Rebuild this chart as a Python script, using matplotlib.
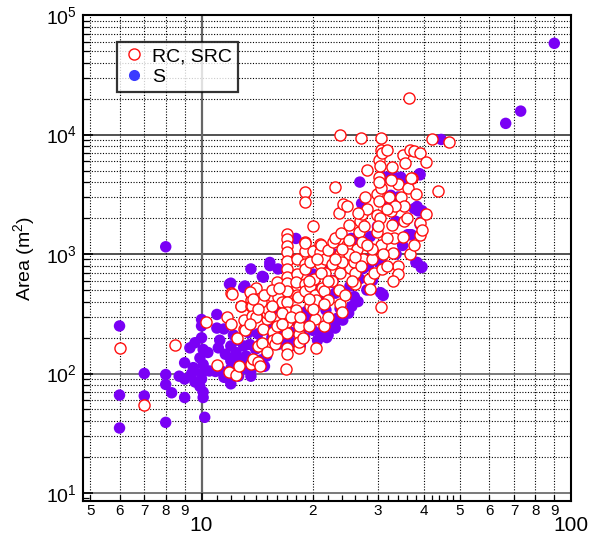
import matplotlib
matplotlib.use("Agg")
import matplotlib.pyplot as plt
from matplotlib.lines import Line2D

plt.rcParams["font.family"] = ["Liberation Sans", "DejaVu Sans"]
plt.rcParams["mathtext.fontset"] = "custom"
plt.rcParams["mathtext.rm"] = "Liberation Sans"

# RC, SRC (open red circles)
rc_x = [6, 7, 8.5, 10.3, 11, 11.7, 11.9, 12, 12, 12.1, 12.4, 12.6, 12.8, 12.8, 13, 13, 13.1,
        13.6, 13.6, 13.6, 13.7, 13.7, 13.8, 14.2, 14.2, 14.4, 14.6, 14.7, 15, 15, 15, 15.1,
        15.3, 15.6, 15.6, 15.6, 15.8, 16, 16.1, 16.5, 16.9, 17, 17, 17, 17, 17, 17, 17, 17,
        17, 17, 17, 17, 17, 17, 17, 18.1, 18.1, 18.1, 18.1, 18, 18.2, 18, 18.3, 18.3, 18.4,
        18.4, 19.1, 19.1, 19.1, 19.1, 19, 19, 19, 19, 19, 19.6, 19.6, 19.6, 20, 20, 20.3,
        20.3, 20.2, 20.4, 20.4, 20.9, 20.9, 20.9, 21, 21.2, 21.6, 21.6, 21.5, 21.5, 22, 22,
        22.6, 22.7, 23, 23, 23.6, 23.7, 23.9, 23.7, 23.7, 23.7, 24, 24.1, 24.7, 24.7, 25,
        25.2, 25.8, 26, 26.3, 26.6, 26.8, 27.1, 27, 27.1, 27.7, 28, 28, 27.4, 28.3, 28.6,
        28.9, 29.3, 29.9, 29.9, 30.2, 30.2, 30.5, 30.5, 30.8, 30.5, 30.2, 29.9, 30.5, 30.8,
        30.5, 30.4, 30.2, 30.4, 30.1, 31.7, 32.8, 32.2, 32.5, 32.8, 33.1, 33.9, 34.6, 35.3,
        36.1, 35, 36.7, 37.5, 38.9, 40.6, 37, 38, 38.9, 39, 36.7, 34, 34, 42, 46.7, 43.5,
        36.3, 31.7, 33, 31.7, 36.8, 40.5, 39.5, 33.4, 35.2, 31.7, 32.5, 35.5, 36, 37.5, 31,
        33, 35, 29, 26, 25, 24, 27.5, 26.5, 22.5, 23.5, 24.5, 25.5, 21.5, 22, 20, 19.5,
        18.8, 16, 16.5, 15.5, 14.5, 14, 13.5, 12.5, 16, 15, 17.5, 18.5, 19.5, 14, 13.5,
        14.8, 15.5, 14.2, 16.2, 16.5, 13.8, 19.5, 20.5, 21, 22, 23, 24, 25, 26, 27, 28]
rc_area = [164, 55, 173, 270, 118, 300, 102, 475, 262, 463, 98, 116, 369, 365, 236, 280, 230,
           410, 365, 120, 369, 305, 132, 171, 125, 116, 180, 236, 406, 286, 320, 347,
           305, 440, 221, 190, 177, 580, 440, 400, 110, 1470, 1340, 1170, 1030, 880, 750, 640,
           570, 490, 400, 330, 272, 220, 165, 146, 910, 680, 540, 450, 580, 440, 340, 214, 165,
           251, 183, 1250, 1070, 820, 560, 3300, 2750, 1230, 750, 490, 850, 540, 370, 1700,
           1060, 450, 285, 615, 410, 165, 1210, 1030, 820, 1190, 520, 910, 700, 490, 251, 1080,
           410, 820, 1250, 1350, 3660, 2200, 10000, 1500, 1000, 700, 385, 330, 2600, 1190,
           2500, 1760, 760, 850, 560, 1110, 1530, 1880, 1250, 9400, 2150, 3000, 5020, 2400,
           900, 615, 505, 900, 700, 2140, 3170, 4400, 6100, 7450, 9400, 7000, 3600, 2800,
           1530, 1190, 750, 360, 5500, 4000, 2000, 1700, 7400, 5350, 3000, 2280, 1760, 1350,
           3870, 3000, 2530, 3600, 6700, 7400, 7300, 6950, 5900, 4340, 3160, 1810, 1450, 1000,
           800, 680, 9200, 8600, 3350, 20200, 800, 1020, 1350, 4300, 2150, 1600, 2500, 1900,
           2400, 4200, 5800, 2000, 1200, 1000, 600, 1400, 1100, 700, 1000, 850, 1700, 2200,
           600, 500, 450, 600, 380, 300, 350, 250, 200, 250, 320, 370, 400, 300, 260, 200, 200,
           150, 300, 300, 420, 520, 480,
           450, 500, 350, 520, 260, 420, 600, 900, 700, 600, 900, 1100, 1300, 950, 800, 1200]

# S (filled purple circles)
s_x = [6, 6, 6, 7, 7, 8, 8, 8, 8, 8.3, 8.7, 9, 9, 9, 9.3, 9.4, 9.5, 9.6, 9.6, 9.9, 9.9, 10,
       10, 10, 10.1, 10.1, 10, 10, 10.1, 10.1, 10.2, 10.4, 10.5, 10.9, 11, 11, 11.1, 11.2,
       11.3, 11.5, 11.5, 11.7, 11.6, 12, 12, 12, 11.9, 12, 12, 12.2, 12.4, 12.5, 12.5, 12.8,
       12.6, 13, 13.1, 13.2, 13.2, 13.5, 13.6, 13.6, 13.6, 13.6, 13.7, 13.4, 13, 14, 14.2,
       14, 14.5, 14.7, 14.6, 14.8, 15, 15.3, 15.3, 15.5, 15.8, 16, 16.1, 16.1, 16.8, 16.9,
       17, 17.5, 18, 18, 18.3, 18.5, 19, 19.2, 19.2, 19.5, 19.6, 19, 20, 20.2, 20.1, 20.4,
       20.6, 21, 21, 21.7, 21.8, 22, 22, 22.1, 22, 22.6, 22.7, 22.8, 23, 23, 23.3, 23.7,
       24.1, 24.2, 25.2, 25.4, 25.5, 25.9, 26, 26.8, 27.1, 27.1, 27.4, 26.8, 28.3, 28.6,
       28.7, 29.9, 30.2, 30.5, 30.9, 30.8, 31, 31.1, 31.5, 32.8, 31.7, 32.5, 34, 33.5, 34.6,
       35, 35.2, 36.1, 36.5, 37, 37.6, 38.3, 38.5, 39.5, 39.1, 39, 38.9, 39, 38, 38.3, 39.5,
       39.3, 33.6, 44.5, 66.5, 73, 90,
       14.5, 15.5, 16.5, 17.5, 18.5, 20, 21.5, 23, 25, 26.5, 28, 29]
s_area = [250, 66, 35, 100, 65, 1150, 98, 81, 39, 69, 95, 123, 63, 90, 164, 100, 112, 181, 85,
          135, 78, 283, 250, 199, 159, 119, 100, 90, 70, 63, 43, 150, 105, 104, 312, 240, 164,
          190, 105, 93, 236, 92, 145, 128, 82, 570, 560, 170, 110, 210, 150, 190, 135, 130, 95,
          526, 540, 140, 110, 175, 105, 95, 750, 460, 463, 220, 170, 320, 215, 160, 130, 640,
          650, 115, 140, 800, 850, 250, 347, 350, 175, 750, 256, 190, 300, 220, 1350, 170, 260,
          171, 245, 330, 290, 280, 270, 200, 680, 505, 340, 660, 190, 220, 440, 340, 200, 210,
          1000, 1050, 800, 580, 600, 1000, 270, 470, 290, 350, 280, 2450, 540, 1350, 365, 440,
          1350, 4000, 2650, 2140, 760, 620, 800, 1400, 910, 1700, 850, 475, 460, 830, 450, 1000,
          4400, 4600, 2600, 3100, 3000, 1880, 4400, 1180, 4150, 1450, 1450, 1450, 2400, 2500,
          2300, 2300, 1850, 1760, 4700, 4600, 850, 850, 780, 770, 1000, 9100, 12400, 15700,
          58000,
          180, 200, 210, 180, 230, 230, 250, 240, 320, 400, 500, 600]

x_major = [10, 100]
x_labeled = [5, 6, 7, 8, 9, 20, 30, 40, 50, 60, 70, 80, 90]
x_small = [11, 12, 13, 14, 15, 16, 17, 18, 19, 22, 24, 26, 28, 32, 34, 36, 38, 42, 44, 46, 48]
y_major = [10, 100, 1000, 10000, 100000]

fig = plt.figure(figsize=(5.95, 5.37), dpi=100)
ax = fig.add_axes([0.139, 0.067, 0.821, 0.905])
ax.set_xscale("log")
ax.set_yscale("log")

ax.scatter(s_x, s_area, s=68, color="#7a00f5", edgecolors="none", zorder=3)
ax.scatter(rc_x, rc_area, s=64, facecolors="white", edgecolors="#ff0f0f", linewidths=1.0, zorder=4)

ax.set_xlim(4.77, 100)
ax.set_ylim(8.57, 1e5)

# grid
dot = dict(color="black", lw=0.8, linestyle=(0, (1, 1.5)), zorder=1)
for v in x_labeled:
    ax.axvline(v, **dot)
for dec in [10, 100, 1000, 10000]:
    for k in range(2, 10):
        ax.axhline(dec * k, **dot)
for v in y_major:
    ax.axhline(v, color="#222222" if v >= 1000 else "#555555", lw=1.1, zorder=1.5)
ax.axvline(10, color="#666666", lw=1.6, zorder=1.5)

# ticks
ax.set_xticks(x_major)
ax.set_xticklabels(["10", "100"], fontsize=15)
ax.set_xticks(x_labeled + x_small, minor=True)
ax.set_xticklabels([str(v if v < 10 else v // 10) for v in x_labeled] + [""] * len(x_small),
                   minor=True, fontsize=11)
ax.tick_params(axis="x", which="major", direction="in", length=6, width=1.2, pad=11)
ax.tick_params(axis="x", which="minor", direction="in", length=4, width=0.9, pad=2)

ax.set_yticks(y_major)
ax.set_yticklabels([r"$\mathregular{10^{%d}}$" % e for e in range(1, 6)], fontsize=14)
ax.set_yticks([d * k for d in [1, 10, 100, 1000, 10000] for k in range(2, 10) if 8.57 < d * k < 1e5],
              minor=True)
ax.yaxis.set_minor_formatter(plt.NullFormatter())
ax.tick_params(axis="y", which="major", direction="in", length=7, width=1.2, pad=4)
ax.tick_params(axis="y", which="minor", direction="in", length=4, width=0.9)

for sp in ax.spines.values():
    sp.set_linewidth(1.5)

ax.set_ylabel(r"Area (m$^\mathregular{2}$)", fontsize=14, labelpad=6)

handles = [
    Line2D([], [], marker="o", linestyle="none", markersize=8, markerfacecolor="white",
           markeredgecolor="#ff0f0f", markeredgewidth=1.0),
    Line2D([], [], marker="o", linestyle="none", markersize=8, markerfacecolor="#3a3aff",
           markeredgecolor="none"),
]
leg = ax.legend(handles, ["RC, SRC", "S"], loc="upper left", bbox_to_anchor=(0.07, 0.945),
                fontsize=14, frameon=True, fancybox=False, handletextpad=0.3,
                borderpad=0.3, labelspacing=0.15, handlelength=1.2, borderaxespad=0)
leg.get_frame().set_edgecolor("black")
leg.get_frame().set_linewidth(1.6)
leg.set_zorder(6)

fig.savefig("out.png", dpi=100)
